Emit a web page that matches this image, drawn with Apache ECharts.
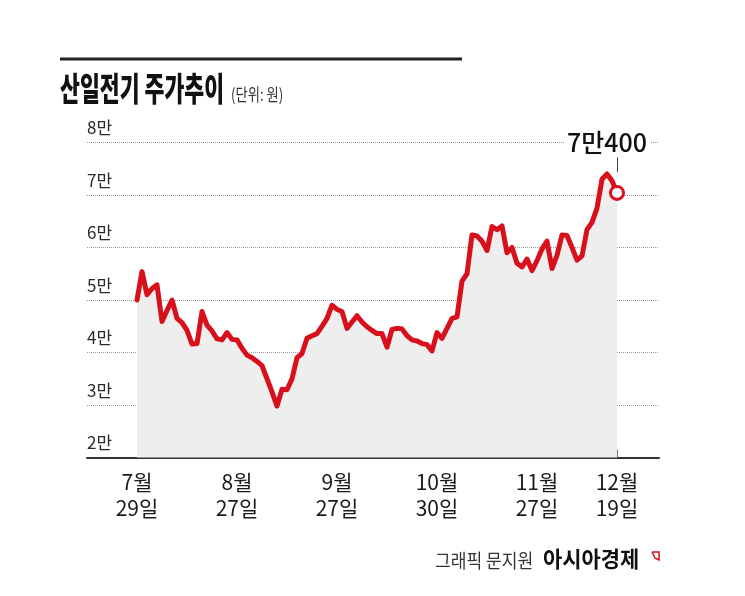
<!DOCTYPE html>
<html>
<head>
<meta charset="utf-8">
<script src="https://cdn.jsdelivr.net/npm/echarts@6/dist/echarts.min.js"></script>
<style>
  html, body { margin: 0; padding: 0; background: #fff; }
  #chart { width: 745px; height: 596px; }
</style>
</head>
<body>
<div id="chart"></div>
<script>
// 거래일 기준 종가(원), 7/29 ~ 12/19
const prices = [
  50000, 55400, 51000, 52200, 52900, 45900, 48000, 50000, 46500, 45700,
  44200, 41600, 41700, 47800, 45200, 44100, 42600, 42400, 43800, 42500,
  42400, 40800, 39500, 39000, 38300, 37500, 35000, 32500, 29800, 33000,
  32900, 35000, 39000, 39800, 42700, 43200, 43600, 45000, 46500, 49000,
  48200, 47800, 44600, 45800, 47000, 45800, 44900, 44200, 43600, 43600,
  41000, 44400, 44600, 44500, 43200, 42400, 42200, 41700, 41500, 40300,
  43800, 42700, 44600, 46500, 46800, 53600, 55000, 62400, 62200, 61200,
  59400, 64000, 63400, 64100, 59000, 60000, 57000, 56300, 57800, 55600,
  57500, 59700, 61200, 56000, 58500, 62400, 62300, 60000, 57600, 58400,
  63400, 64800, 67500, 73000, 74000, 72700, 70400
];
const tickIdx = [0, 20, 40, 60, 80, 96];
const tickLabels = ['7월\n29일', '8월\n27일', '9월\n27일', '10월\n30일', '11월\n27일', '12월\n19일'];
const yTicks = [20000, 30000, 40000, 50000, 60000, 70000, 80000];
const lastLabel = '7만400';

const RED = '#d8101c';
const FONT = '"Noto Sans CJK KR", "Noto Sans", sans-serif';

const lineData = prices.map((v, i) => [i, v]);
const last = lineData[lineData.length - 1];

const chart = echarts.init(document.getElementById('chart'));

chart.setOption({
  animation: false,
  backgroundColor: '#fff',
  grid: { left: 87, right: 86, top: 142.5, bottom: 138.5 },
  graphic: [
    { type: 'rect', shape: { x: 60, y: 57.5, width: 402, height: 3 }, style: { fill: '#222' } },
    {
      type: 'text', x: 60, y: 72, scaleX: 0.655,
      style: { text: '산일전기 주가추이', font: '900 33px ' + FONT, fill: '#111', textVerticalAlign: 'top' }
    },
    {
      type: 'text', x: 231, y: 86, scaleX: 0.78,
      style: { text: '(단위: 원)', font: '17px ' + FONT, fill: '#333', textVerticalAlign: 'top' }
    },
    {
      type: 'text', x: 435, y: 551, scaleX: 0.9,
      style: { text: '그래픽 문지원', font: '19px ' + FONT, fill: '#333', textVerticalAlign: 'top' }
    },
    {
      type: 'text', x: 543, y: 548, scaleX: 0.95,
      style: { text: '아시아경제', font: 'bold 22px ' + FONT, fill: '#111', textVerticalAlign: 'top' }
    },
    {
      type: 'polyline', shape: { points: [[652, 552], [659, 552], [659, 560], [655, 558], [652, 552]] },
      style: { stroke: RED, fill: null, lineWidth: 1.5 }
    }
  ],
  xAxis: {
    type: 'value',
    min: -10,
    max: 104.4,
    splitLine: { show: false },
    axisLine: { show: true, onZero: false, lineStyle: { color: '#333', width: 2 } },
    axisTick: {
      show: true, inside: true, length: 8,
      customValues: tickIdx,
      lineStyle: { color: '#777', width: 1 }
    },
    axisLabel: {
      customValues: tickIdx,
      formatter: v => tickLabels[tickIdx.indexOf(v)],
      fontFamily: FONT, fontSize: 21, color: '#1a1a1a', lineHeight: 26, margin: 12
    }
  },
  yAxis: {
    type: 'value',
    min: 20000,
    max: 80000,
    interval: 10000,
    axisLine: { show: false },
    axisTick: { show: false },
    splitLine: { show: true, lineStyle: { color: '#999', type: 'dotted', width: 1 } },
    axisLabel: {
      inside: true, margin: 0,
      verticalAlign: 'bottom', padding: [0, 0, 6, 0],
      fontFamily: FONT, fontSize: 17, color: '#2a2a2a',
      formatter: v => (yTicks.includes(v) ? (v / 10000) + '만' : '')
    }
  },
  series: [
    {
      type: 'line',
      data: lineData,
      symbol: 'none',
      lineStyle: { color: RED, width: 5, cap: 'round', join: 'round' },
      areaStyle: { color: '#eeeeee', opacity: 1 },
      z: 3,
      markLine: {
        silent: true,
        symbol: 'none',
        lineStyle: { color: '#444', width: 1, type: 'solid' },
        label: {
          show: true, position: 'end', formatter: lastLabel,
          fontFamily: FONT, fontSize: 25, fontWeight: 500, color: '#111', letterSpacing: -1.5,
          backgroundColor: '#fff', padding: [0, 3, 0, 3], distance: 2, offset: [-10, 0]
        },
        data: [[{ coord: [last[0], 74400] }, { coord: [last[0], 77200] }]]
      }
    },
    {
      type: 'scatter',
      data: [last],
      symbol: 'circle',
      symbolSize: 13,
      itemStyle: { color: '#fff', borderColor: RED, borderWidth: 3, opacity: 1 },
      z: 5
    }
  ]
});
</script>
</body>
</html>
